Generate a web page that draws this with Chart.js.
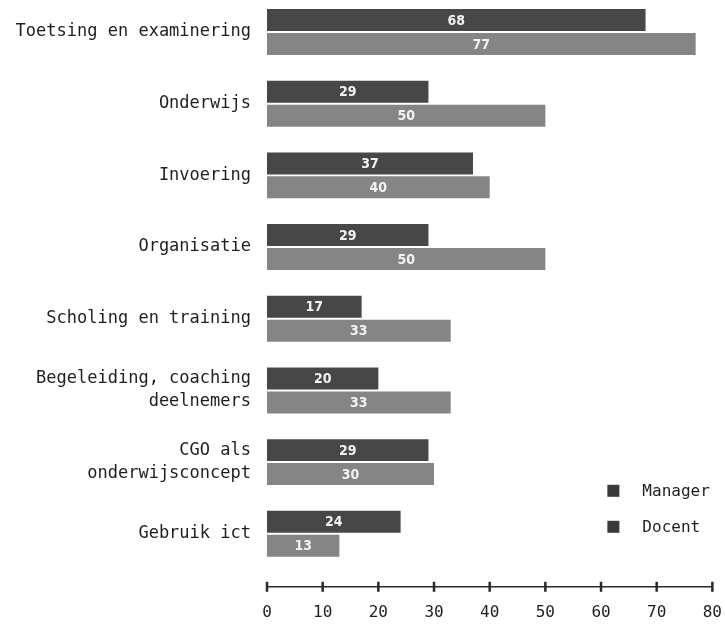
<!DOCTYPE html>
<html>
<head>
<meta charset="utf-8">
<script src="https://cdn.jsdelivr.net/npm/chart.js@4.4.0/dist/chart.umd.min.js"></script>
<style>
  html, body { margin: 0; padding: 0; background: #fff; }
</style>
</head>
<body>
<canvas id="themaChart" width="725" height="625"></canvas>
<script>
// thema's per groep (in procenten)
var categories = [
  'Toetsing en examinering',
  'Onderwijs',
  'Invoering',
  'Organisatie',
  'Scholing en training',
  ['Begeleiding, coaching', 'deelnemers'],
  ['CGO als', 'onderwijsconcept'],
  'Gebruik ict'
];
var managerValues = [68, 29, 37, 29, 17, 20, 29, 24];
var docentValues = [77, 50, 40, 50, 33, 33, 30, 13];
var xTicks = [0, 10, 20, 30, 40, 50, 60, 70, 80];

var labelFont = '"DejaVu Sans Mono", monospace';
var textColor = '#1e1e1e';

// waarde midden in elke balk
const barValues = {
  id: 'barValues',
  afterDatasetsDraw(chart) {
    const ctx = chart.ctx;
    ctx.save();
    ctx.font = 'bold 14px "DejaVu Sans Condensed", "DejaVu Sans", sans-serif';
    ctx.fillStyle = '#f2f2f2';
    ctx.textAlign = 'center';
    ctx.textBaseline = 'middle';
    chart.data.datasets.forEach((ds, i) => {
      chart.getDatasetMeta(i).data.forEach((bar, j) => {
        ctx.fillText(ds.data[j], (bar.base + bar.x) / 2, bar.y + 1);
      });
    });
    ctx.restore();
  }
};

// x-as los onder de balken, met streepjes per tick
const bottomAxis = {
  id: 'bottomAxis',
  afterDraw(chart) {
    const ctx = chart.ctx;
    const x = chart.scales.x;
    const y = chart.chartArea.bottom + 53;
    ctx.save();
    ctx.strokeStyle = '#2a2a2a';
    ctx.lineWidth = 1.5;
    ctx.beginPath();
    ctx.moveTo(x.left, y);
    ctx.lineTo(x.right, y);
    ctx.stroke();
    ctx.lineWidth = 2.5;
    xTicks.forEach(v => {
      const px = x.getPixelForValue(v);
      ctx.beginPath();
      ctx.moveTo(px, y - 5);
      ctx.lineTo(px, y + 5);
      ctx.stroke();
    });
    ctx.restore();
  }
};

// legenda rechtsonder in het grafiekvlak
const cornerLegend = {
  id: 'cornerLegend',
  afterDraw(chart) {
    const ctx = chart.ctx;
    const area = chart.chartArea;
    ctx.save();
    ctx.font = '16px ' + labelFont;
    ctx.textBaseline = 'middle';
    ctx.textAlign = 'left';
    chart.data.datasets.forEach((ds, i) => {
      const cy = area.bottom - 43 + i * 36;
      ctx.fillStyle = '#393939';
      ctx.fillRect(area.right - 105, cy - 6, 12, 12);
      ctx.fillStyle = textColor;
      ctx.fillText(ds.label, area.right - 70, cy + 1);
    });
    ctx.restore();
  }
};

document.addEventListener('DOMContentLoaded', () => {
  var ctx = document.getElementById('themaChart');
  new Chart(ctx, {
    type: 'bar',
    data: {
      labels: categories,
      datasets: [{
        label: 'Manager',
        data: managerValues,
        backgroundColor: '#474747',
        borderWidth: 0,
        clip: false
      }, {
        label: 'Docent',
        data: docentValues,
        backgroundColor: '#858585',
        borderWidth: 0,
        clip: false
      }]
    },
    options: {
      indexAxis: 'y',
      responsive: false,
      animation: false,
      categoryPercentage: 0.668,
      barPercentage: 0.917,
      layout: {
        padding: { top: 32, right: 12, bottom: 0, left: 0 }
      },
      scales: {
        x: {
          min: 0,
          max: 80,
          afterBuildTicks: s => { s.ticks = xTicks.map(v => ({ value: v })); },
          border: { display: false },
          // tick-streepjes tekent bottomAxis; tickLength houdt alleen ruimte vrij
          grid: { display: false, drawTicks: true, tickLength: 66 },
          ticks: {
            padding: 3,
            maxRotation: 0,
            color: textColor,
            font: { family: labelFont, size: 16 }
          }
        },
        y: {
          offset: false,
          afterFit: s => { s.width = 267; },
          border: { display: false },
          grid: { display: false, drawTicks: false },
          ticks: {
            padding: 16,
            color: textColor,
            font: { family: labelFont, size: 17, lineHeight: 1.35 }
          }
        }
      },
      plugins: {
        legend: { display: false },
        tooltip: { enabled: false }
      }
    },
    plugins: [barValues, bottomAxis, cornerLegend]
  });
});
</script>
</body>
</html>
